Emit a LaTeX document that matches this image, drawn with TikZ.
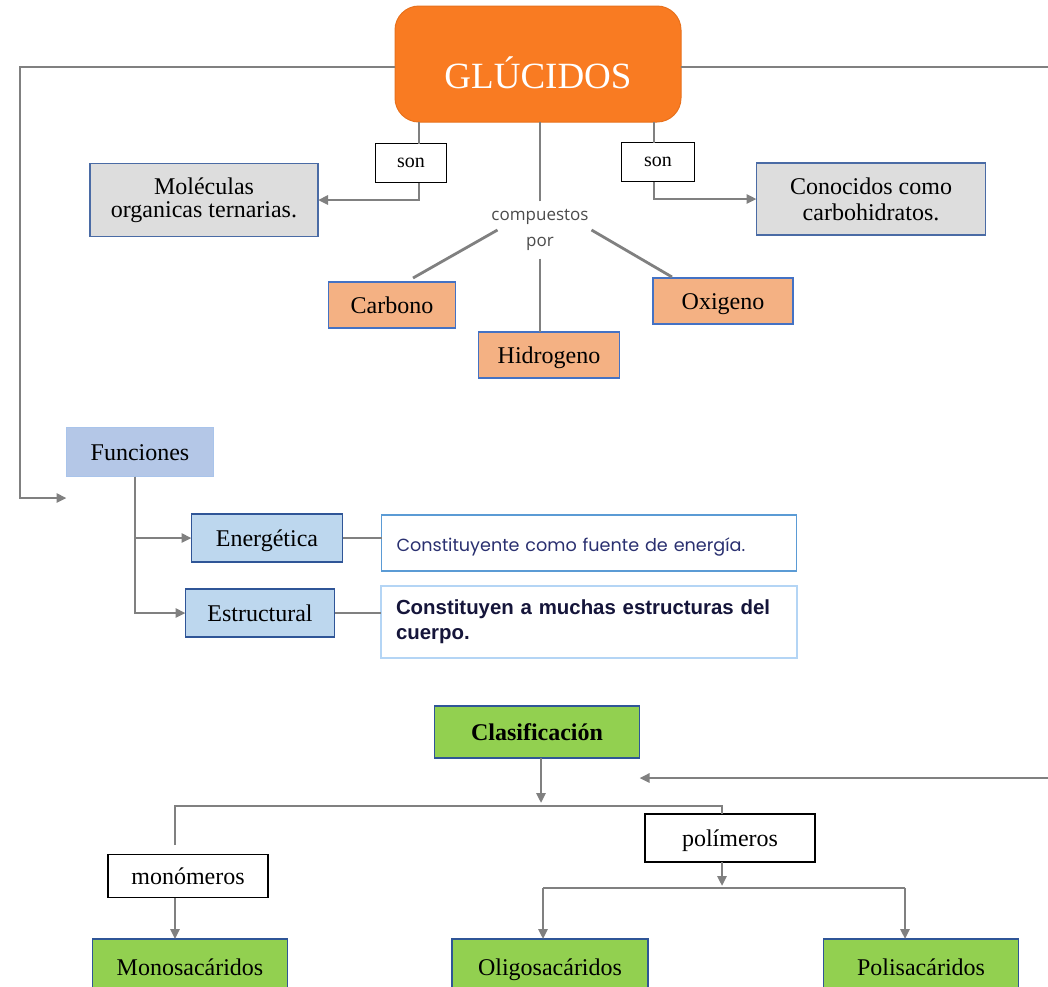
\documentclass[tikz,border=0pt]{standalone}
\usepackage{fontspec}
\setmainfont{Liberation Serif}
\newfontfamily\gothicfont{Poppins}
\newfontfamily\arialfont{Liberation Sans}
\newfontfamily\opensansfont{Open Sans}
\usetikzlibrary{arrows.meta,positioning}
\definecolor{glorange}{HTML}{F97B22}
\definecolor{glorangeb}{HTML}{E8711C}
\definecolor{peach}{HTML}{F4B183}
\definecolor{boxblue}{HTML}{4472C4}
\definecolor{funfill}{HTML}{B4C7E7}
\definecolor{funedge}{HTML}{A9C4EB}
\definecolor{subfill}{HTML}{BDD7EE}
\definecolor{subedge}{HTML}{2F5597}
\definecolor{descedge}{HTML}{5B9BD5}
\definecolor{descedgeb}{HTML}{B4D5F5}
\definecolor{greenfill}{HTML}{92D050}
\definecolor{greyfill}{HTML}{DDDDDD}
\definecolor{greyedge}{HTML}{4A6BA5}
\definecolor{connc}{HTML}{808080}
\definecolor{navytext}{HTML}{2A3070}
\definecolor{darktext}{HTML}{15153A}
\newcommand{\boxfont}{\fontsize{24}{26}\selectfont}
\newcommand{\lw}{2.8pt}
\tikzset{
  base/.style = {inner sep=0pt, outer sep=0pt, align=center, font=\boxfont},
  oneline/.style = {text height=20pt, text depth=4pt},
  glubox/.style = {base, rounded corners=24pt, fill=glorange, draw=glorangeb, line width=1pt,
                   text=white, font=\fontsize{37}{40}\selectfont, text height=52pt, text depth=3pt},
  lbl/.style = {base, oneline, draw=black, line width=1.2pt, fill=white},
  greybox/.style = {base, fill=greyfill, draw=greyedge, line width=1.3pt},
  elembox/.style = {base, oneline, fill=peach, draw=boxblue, line width=1.3pt},
  funbox/.style = {base, oneline, fill=funfill, draw=funedge, line width=1.3pt},
  subbox/.style = {base, oneline, fill=subfill, draw=subedge, line width=1.3pt},
  descbox/.style = {base, fill=white, draw=descedge, line width=1.2pt, align=left},
  greenbox/.style = {base, oneline, fill=greenfill, draw=subedge, line width=1.3pt},
  conn/.style = {draw=connc, line width=\lw},
  arr/.style = {conn, -{Triangle[length=10pt,width=9pt]}}
}
\begin{document}
\begin{tikzpicture}[x=1pt, y=-1pt]
  \useasboundingbox (0,0) rectangle (1048,986);
  \fill[white] (0,0) rectangle (1048,986);
  % main concept
  \node[glubox, minimum width=286pt, minimum height=116pt] (glucidos) at (538,64) {GLÚCIDOS};
  \node[lbl, minimum width=71pt, minimum height=39pt, font=\fontsize{20}{22}\selectfont, text height=12pt, text depth=3pt] (sonL) at (411,163) {son};
  \node[lbl, minimum width=73pt, minimum height=39pt, font=\fontsize{20}{22}\selectfont, text height=12pt, text depth=3pt] (sonR) at (658,162) {son};
  \node[greybox, minimum width=228pt, minimum height=73pt] (molec) at (204,200) {\raisebox{-3pt}{Moléculas}\\organicas ternarias.};
  \node[greybox, minimum width=229pt, minimum height=72pt] (conoc) at (871,199) {Conocidos como\\carbohidratos.};
  \node[base, inner sep=8pt, text=black!70, font=\opensansfont\fontsize{17}{26}\selectfont] (compuestos) at (540,230) {compuestos\\por};
  \node[elembox, minimum width=127pt, minimum height=46pt] (carbono) at (392,305) {Carbono};
  \node[elembox, minimum width=141pt, minimum height=46pt] (hidrogeno) at (549,355) {Hidrogeno};
  \node[elembox, minimum width=140pt, minimum height=46pt] (oxigeno) at (723,301) {Oxigeno};
  % funciones
  \node[funbox, minimum width=147pt, minimum height=49pt] (funciones) at (140,452) {Funciones};
  \node[subbox, minimum width=151pt, minimum height=48pt] (energetica) at (267,538) {Energética};
  \node[subbox, minimum width=149pt, minimum height=48pt] (estructural) at (260,613) {Estructural};
  \node[descbox, minimum width=415pt, minimum height=56pt, text width=385pt, inner xsep=15pt,
        text height=20pt, text depth=4pt,
        text=navytext, font=\gothicfont\fontsize{17.6}{20}\selectfont] (descEner) at (589,543)
        {Constituyente como fuente de energía.};
  \node[descbox, draw=descedgeb, line width=2.6pt, minimum width=416pt, minimum height=72pt, text width=386pt,
        inner xsep=15pt, text=darktext, font=\arialfont\bfseries\fontsize{20.4}{25}\selectfont] (descEstr) at (589,622)
        {Constituyen a muchas estructuras del\\cuerpo.};
  % clasificacion
  \node[greenbox, minimum width=205pt, minimum height=52pt, font=\boxfont\bfseries] (clasif) at (537,732) {Clasificación};
  \node[lbl, minimum width=160pt, minimum height=43pt] (monomeros) at (188,876) {monómeros};
  \node[lbl, minimum width=170pt, minimum height=48pt] (polimeros) at (730,838) {polímeros};
  \node[greenbox, minimum width=195pt, minimum height=56pt] (monosac) at (190,967) {Monosacáridos};
  \node[greenbox, minimum width=196pt, minimum height=56pt] (oligosac) at (550,967) {Oligosacáridos};
  \node[greenbox, minimum width=195pt, minimum height=56pt] (polisac) at (921,967) {Polisacáridos};
  % junctions
  \coordinate (loopL) at (20,498);
  \coordinate (loopR) at (1070,778);
  \coordinate (cj) at (541,806);
  \coordinate (cr) at (722,806);
  \coordinate (mtop) at (175,845);
  \coordinate (pj) at (722,888);
  \coordinate (ol) at (543,888);
  \coordinate (pl) at (905,888);
  % connectors
  \draw[arr] ([yshift=-3pt]glucidos.west) -| (loopL) -- (funciones.west |- loopL);
  \draw[arr] ([yshift=-3pt]glucidos.east) -| (loopR) -- (clasif.east |- loopR);
  \draw[conn] ([xshift=8pt]sonL.north) -- ([xshift=8pt]sonL.north |- glucidos.south);
  \draw[arr] ([xshift=8pt]sonL.south) |- (molec.east);
  \draw[conn] ([xshift=-4pt]sonR.north) -- ([xshift=-4pt]sonR.north |- glucidos.south);
  \draw[arr] ([xshift=-4pt]sonR.south) |- (conoc.west);
  \draw[conn] (compuestos.north) -- (compuestos.north |- glucidos.south);
  \draw[conn] ([xshift=14pt]compuestos.west) -- ([xshift=21pt,yshift=4pt]carbono.north);
  \draw[conn] ([xshift=-9pt]hidrogeno.north |- compuestos.south) -- ([xshift=-9pt]hidrogeno.north);
  \draw[conn] ([xshift=-5pt]compuestos.east) -- ([xshift=19pt,yshift=1pt]oxigeno.north west);
  \draw[arr] ([xshift=-5pt]funciones.south) |- (energetica.west);
  \draw[arr] ([xshift=-5pt]funciones.south) |- (estructural.west);
  \draw[conn] (energetica.east) -- (descEner.west |- energetica.east);
  \draw[conn] (estructural.east) -- (descEstr.west |- estructural.east);
  \draw[arr, shorten >=3pt] (clasif.south -| cj) -- (cj);
  \draw[conn] (mtop) |- (cr) -- (polimeros.north -| cr);
  \draw[arr] (monomeros.south -| mtop) -- (mtop |- monosac.north);
  \draw[arr, shorten >=2pt] (polimeros.south -| pj) -- (pj);
  \draw[conn] (ol) -- (pl);
  \draw[arr] (ol) -- (ol |- oligosac.north);
  \draw[arr] (pl) -- (pl |- polisac.north);
\end{tikzpicture}
\end{document}
